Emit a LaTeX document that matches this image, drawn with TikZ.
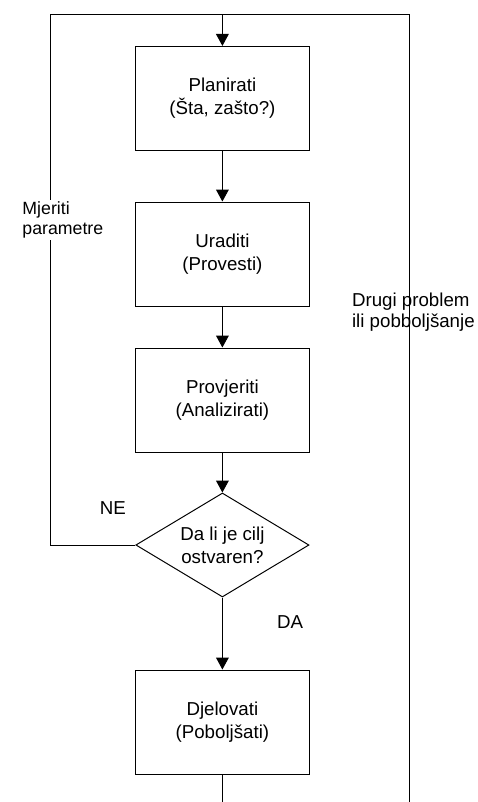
\documentclass[tikz,border=0pt]{standalone}
\usepackage{fontspec}
\setmainfont{Liberation Sans}
\usetikzlibrary{arrows.meta,positioning,shapes.geometric}

\begin{document}
\begin{tikzpicture}[
  >={Triangle[length=3mm,width=3.2mm]},
  line/.style={line width=0.7pt,black},
  flow/.style={->,line width=0.7pt,black},
  stepbox/.style={rectangle,draw,line width=0.7pt,minimum width=4.34cm,minimum height=2.6cm,
    inner sep=0pt,align=center,font=\fontsize{13.3}{16.4}\selectfont},
  decision/.style={diamond,draw,line width=0.7pt,aspect=1.66,minimum width=4.33cm,minimum height=2.6cm,
    inner sep=0pt,align=center,font=\fontsize{13.3}{16.4}\selectfont},
  lbl/.style={font=\fontsize{13.3}{14.6}\selectfont,align=left,inner sep=1pt}
]
\useasboundingbox (0,0) rectangle (11.95,-20.05);

% ---- PDCA steps ----
\node[stepbox] (plan) at (5.56,-2.46) {Planirati\\(Šta, zašto?)};
\node[stepbox] (do) at (5.56,-6.35) {Uraditi\\(Provesti)};
\node[stepbox] (check) at (5.56,-10.0) {Provjeriti\\(Analizirati)};
\node[decision] (goal) at (5.56,-13.625) {Da li je cilj\\ostvaren?};
\node[stepbox] (act) at (5.56,-18.05) {Djelovati\\(Poboljšati)};

% ---- loop frame ----
\coordinate (tl) at (1.25,-0.35);
\coordinate (tc) at (5.56,-0.35);
\coordinate (tr) at (10.225,-0.35);
\coordinate (br) at (10.225,-20.05);
\coordinate (bc) at (5.56,-20.05);

\draw[flow] (tc) -- (plan);
\draw[flow] (plan) -- (do);
\draw[flow] (do) -- (check);
\draw[flow] (check) -- (goal);
\draw[flow] (goal) -- (act);
\draw[line] (act) -- (bc);
\draw[line] (goal.west) -| (tl) -- (tr) -- (br);

% ---- labels ----
\node[lbl,font=\fontsize{12.6}{14.4}\selectfont,fill=white,anchor=west] (measure) at (0.52,-5.5) {Mjeriti\\parametre};
\node[lbl,anchor=west] (other) at (8.76,-7.8) {Drugi problem\\ili pobboljšanje};
\node[lbl] (no) at (2.82,-12.69) {NE};
\node[lbl] (yes) at (7.25,-15.55) {DA};

\end{tikzpicture}
\end{document}
